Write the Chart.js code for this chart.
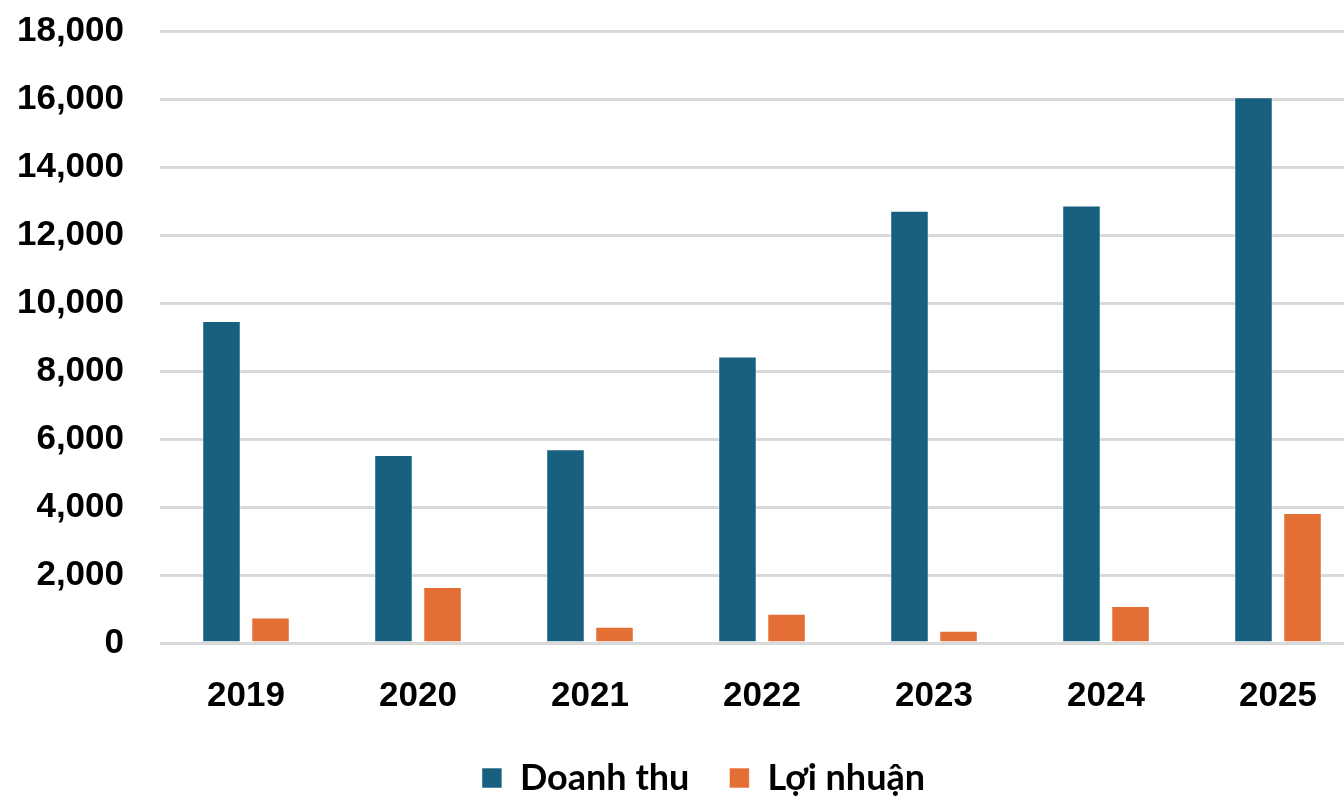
<!DOCTYPE html>
<html lang="vi">
<head>
<meta charset="utf-8">
<title>Doanh thu và Lợi nhuận 2019–2025</title>
<script src="https://cdn.jsdelivr.net/npm/chart.js@4.4.1/dist/chart.umd.min.js"></script>
<style>
  html, body { margin: 0; padding: 0; background: #ffffff; overflow: hidden; }
  #wrap { position: absolute; left: 0; top: 0; width: 1407px; height: 806px; }
</style>
</head>
<body>
<div id="wrap"><canvas id="chart"></canvas></div>
<script>
// Years on the category axis
const years = ['2019', '2020', '2021', '2022', '2023', '2024', '2025'];

// Revenue (Doanh thu) per year
const doanhThu = [9470, 5530, 5700, 8430, 12710, 12870, 16050];

// Profit (Lợi nhuận) per year
const loiNhuan = [750, 1645, 480, 860, 360, 1090, 3820];

// Value axis range and step
const yMin = 0;
const yMax = 18000;
const yStep = 2000;

const seriesNames = ['Doanh thu', 'Lợi nhuận'];

const BLUE = '#17607f';
const ORANGE = '#e46f35';

new Chart(document.getElementById('chart'), {
  type: 'bar',
  data: {
    labels: years,
    datasets: [
      {
        label: seriesNames[0],
        data: doanhThu,
        backgroundColor: BLUE,
        borderColor: 'rgba(255,255,255,0.55)',
        borderWidth: 1,
        barPercentage: 0.786,
        categoryPercentage: 0.57
      },
      {
        label: seriesNames[1],
        data: loiNhuan,
        backgroundColor: ORANGE,
        borderColor: 'rgba(255,255,255,0.55)',
        borderWidth: 1,
        barPercentage: 0.786,
        categoryPercentage: 0.57
      }
    ]
  },
  options: {
    responsive: true,
    maintainAspectRatio: false,
    animation: false,
    layout: { padding: { top: 31, left: 0, right: 0, bottom: 0 } },
    plugins: {
      tooltip: { enabled: false },
      legend: {
        position: 'bottom',
        align: 'center',
        labels: {
          boxWidth: 20,
          boxHeight: 20,
          padding: 40,
          color: '#000000',
          font: { family: 'Lato, "Noto Sans", sans-serif', size: 36, weight: 'bold' }
        }
      }
    },
    scales: {
      x: {
        grid: { display: false, drawTicks: false },
        border: { display: false },
        ticks: {
          color: '#000000',
          padding: 32,
          font: { family: '"Liberation Sans", Arial, sans-serif', size: 35, weight: 'bold' }
        },
        afterFit: (scale) => { scale.height = 77; }
      },
      y: {
        min: yMin,
        max: yMax,
        border: { display: false },
        // invisible tick marks give the gap between labels and the plot
        grid: { color: '#d9d9d9', lineWidth: 3, drawTicks: true, tickLength: 31, tickColor: 'rgba(0,0,0,0)' },
        ticks: {
          stepSize: yStep,
          color: '#000000',
          padding: 5,
          font: { family: '"Liberation Sans", Arial, sans-serif', size: 35, weight: 'bold' },
          callback: (v) => Number(v).toLocaleString('en-US')
        },
        afterFit: (scale) => { scale.width = 160; }
      },
      // empty margin on the right edge, keeps the legend centred on the page
      yRight: {
        position: 'right',
        display: true,
        grid: { display: false, drawTicks: false },
        border: { display: false },
        ticks: { display: false },
        afterFit: (scale) => { scale.width = 43; }
      }
    }
  }
});
</script>
</body>
</html>
